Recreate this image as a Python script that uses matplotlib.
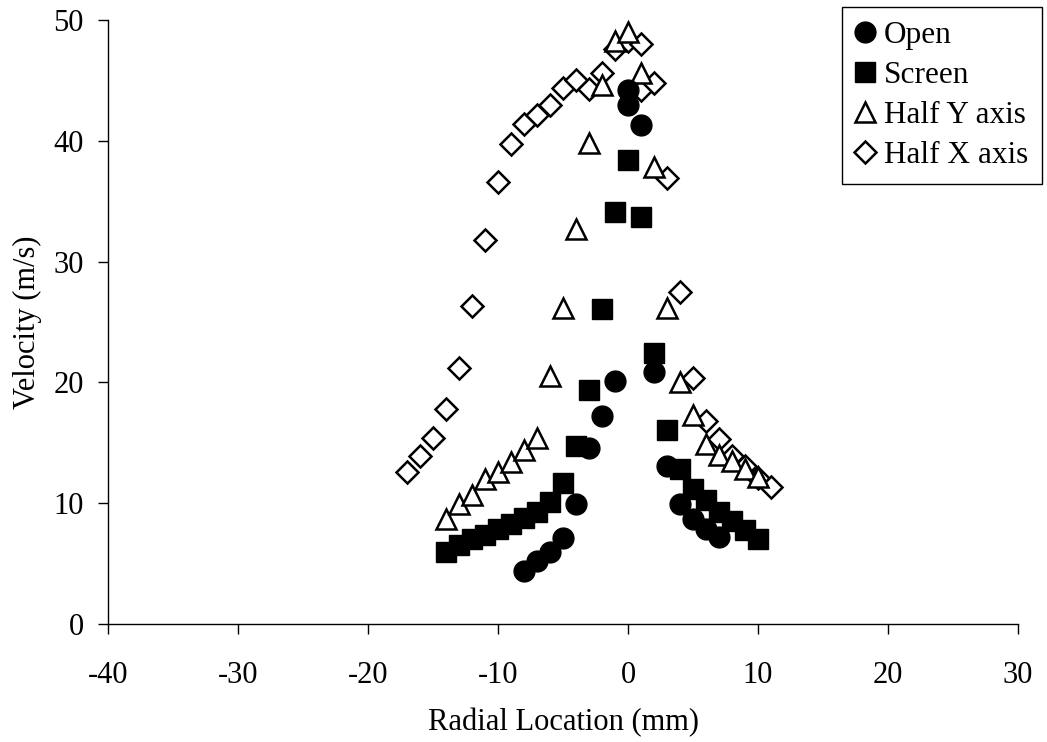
import matplotlib
matplotlib.use("Agg")
import matplotlib.pyplot as plt

# Radial velocity profiles for four nozzle configurations
open_x = [-8, -7, -6, -5, -4, -3, -2, -1, 0, 0, 1, 2, 3, 4, 5, 6, 7]
open_v = [4.4, 5.2, 6.0, 7.1, 9.9, 14.6, 17.2, 20.1, 44.2, 43.0, 41.3, 20.9, 13.1, 9.9, 8.7, 7.9, 7.2]

screen_x = [-14, -13, -12, -11, -10, -9, -8, -7, -6, -5, -4, -3, -2, -1, 0, 1, 2, 3, 4, 5, 6, 7, 8, 9, 10]
screen_v = [6.0, 6.5, 7.0, 7.4, 7.9, 8.3, 8.8, 9.3, 10.1, 11.7, 14.7, 19.4, 26.1, 34.1, 38.4, 33.7,
            22.4, 16.1, 12.8, 11.2, 10.3, 9.3, 8.5, 7.8, 7.0]

halfy_x = [-14, -13, -12, -11, -10, -9, -8, -7, -6, -5, -4, -3, -2, -1, 0, 1, 2, 3, 4, 5, 6, 7, 8, 9, 10]
halfy_v = [8.7, 9.9, 10.7, 12.0, 12.6, 13.4, 14.4, 15.4, 20.5, 26.2, 32.7, 39.8, 44.6, 48.3, 49.0,
           45.6, 37.8, 26.2, 20.0, 17.3, 14.9, 14.0, 13.5, 12.8, 12.2]

halfx_x = [-17, -16, -15, -14, -13, -12, -11, -10, -9, -8, -7, -6, -5, -4, -3, -2, -1, 0, 1, 1,
           2, 3, 4, 5, 6, 7, 8, 9, 10, 11]
halfx_v = [12.6, 13.9, 15.4, 17.8, 21.2, 26.3, 31.8, 36.6, 39.7, 41.4, 42.1, 43.0, 44.4, 45.0, 44.3,
           45.6, 47.6, 48.3, 48.0, 44.2, 44.8, 36.9, 27.5, 20.4, 16.8, 15.3, 13.9, 13.1, 12.1, 11.3]

x_ticks = [-40, -30, -20, -10, 0, 10, 20, 30]
y_ticks = [0, 10, 20, 30, 40, 50]

plt.rcParams["font.family"] = ["Liberation Serif", "DejaVu Serif"]
plt.rcParams["font.size"] = 22

fig = plt.figure(figsize=(10.47, 7.42), dpi=100)
ax = fig.add_axes([108 / 1047, 1 - 624 / 742, 910 / 1047, 604 / 742])

ax.plot(halfx_x, halfx_v, linestyle="none", marker="D", markersize=11,
        markerfacecolor="white", markeredgecolor="black", markeredgewidth=1.8,
        label="Half X axis", zorder=2)
ax.plot(halfy_x, halfy_v, linestyle="none", marker="^", markersize=15,
        markerfacecolor="white", markeredgecolor="black", markeredgewidth=1.8,
        label="Half Y axis", zorder=3)
ax.plot(screen_x, screen_v, linestyle="none", marker="s", markersize=14.5,
        color="black", label="Screen", zorder=4)
ax.plot(open_x, open_v, linestyle="none", marker="o", markersize=15,
        color="black", label="Open", zorder=5)

ax.set_xlim(-40, 30)
ax.set_ylim(0, 50)
ax.set_xticks(x_ticks)
ax.set_yticks(y_ticks)
ax.set_xticklabels([str(t) for t in x_ticks])
ax.set_yticklabels([str(t) for t in y_ticks])

for side in ("top", "right"):
    ax.spines[side].set_visible(False)
for side in ("left", "bottom"):
    ax.spines[side].set_linewidth(1.0)
    ax.spines[side].set_color("black")

ax.tick_params(axis="x", direction="out", length=7.5, width=1.0, pad=19)
ax.tick_params(axis="y", direction="out", length=7.5, width=1.0, pad=10)

ax.set_xlabel("Radial Location (mm)", labelpad=13)
ax.set_ylabel("Velocity (m/s)", labelpad=8)

handles, labels = ax.get_legend_handles_labels()
order = [3, 2, 1, 0]
leg = fig.legend([handles[i] for i in order], [labels[i] for i in order],
                 loc="upper right", bbox_to_anchor=(1042 / 1047, 1 - 7 / 742),
                 frameon=True, fancybox=False, edgecolor="black", framealpha=1,
                 handlelength=0.6, handletextpad=0.3, borderpad=0.45,
                 labelspacing=0.35, borderaxespad=0, fontsize=22.5)
leg.get_frame().set_linewidth(1.0)

fig.savefig("out.png", dpi=100)
